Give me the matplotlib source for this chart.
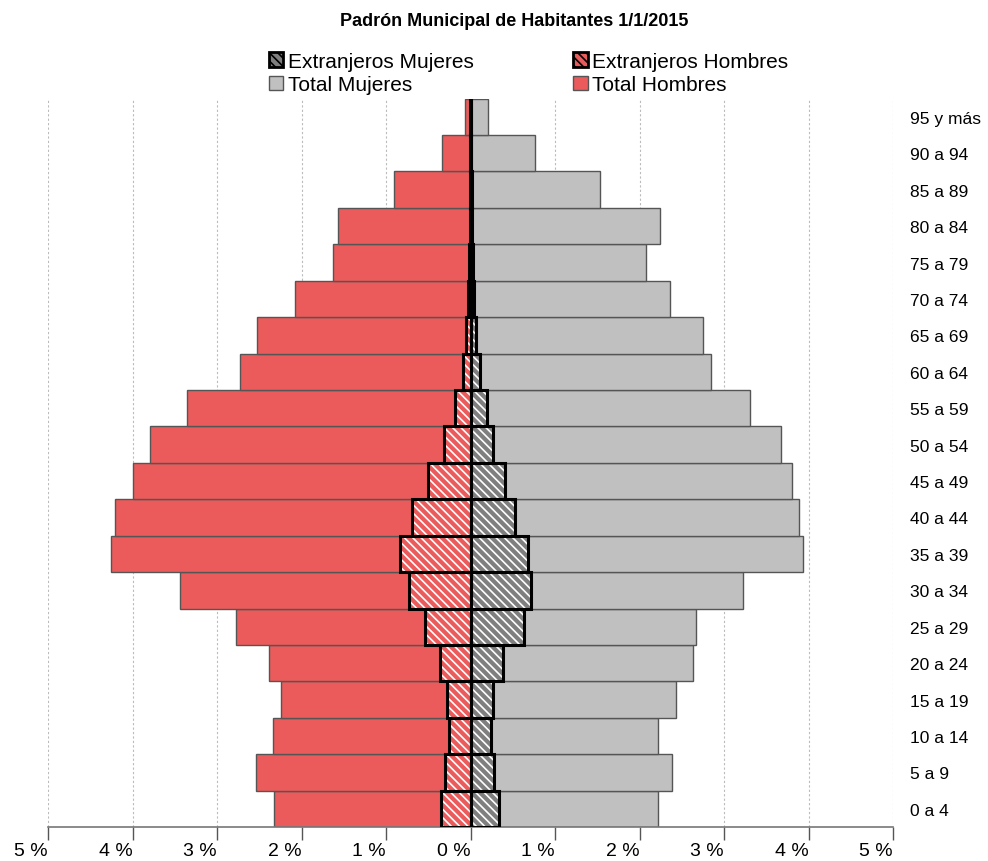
import matplotlib
matplotlib.use("Agg")
import matplotlib.pyplot as plt
import numpy as np
from matplotlib.patches import Patch

plt.rcParams['font.family'] = ['Liberation Sans', 'DejaVu Sans']
plt.rcParams['hatch.linewidth'] = 1.2

grupos = ["0 a 4", "5 a 9", "10 a 14", "15 a 19", "20 a 24", "25 a 29", "30 a 34",
          "35 a 39", "40 a 44", "45 a 49", "50 a 54", "55 a 59", "60 a 64", "65 a 69",
          "70 a 74", "75 a 79", "80 a 84", "85 a 89", "90 a 94", "95 y más"]

# porcentajes sobre el total
total_hombres = [2.33, 2.54, 2.34, 2.24, 2.38, 2.78, 3.44, 4.25, 4.21, 3.99, 3.79, 3.35,
                 2.73, 2.53, 2.08, 1.63, 1.57, 0.90, 0.34, 0.06]
total_mujeres = [2.22, 2.38, 2.22, 2.43, 2.63, 2.67, 3.22, 3.93, 3.89, 3.81, 3.67, 3.31,
                 2.84, 2.75, 2.36, 2.08, 2.24, 1.53, 0.76, 0.21]
extr_hombres = [0.35, 0.30, 0.26, 0.28, 0.36, 0.54, 0.73, 0.84, 0.69, 0.50, 0.31, 0.18,
                0.095, 0.05, 0.03, 0.02, 0.01, 0.01, 0.01, 0.01]
extr_mujeres = [0.34, 0.28, 0.24, 0.26, 0.38, 0.63, 0.72, 0.68, 0.53, 0.41, 0.27, 0.19,
                0.11, 0.06, 0.04, 0.03, 0.02, 0.02, 0.01, 0.01]

rojo = "#ec5b5b"
gris = "#c0c0c0"
gris_osc = "#7f7f7f"

y = np.arange(len(grupos))
th = -np.array(total_hombres)
eh = -np.array(extr_hombres)

fig = plt.figure(figsize=(9.88, 8.62), dpi=100)
ax = fig.add_axes([0.0486, 0.0394, 0.8553, 0.845])

ax.barh(y, th, height=1.0, color=rojo, edgecolor="#555555", linewidth=1, zorder=2)
ax.barh(y, total_mujeres, height=1.0, color=gris, edgecolor="#555555", linewidth=1, zorder=2)

# extranjeros: relleno rayado blanco + borde negro
ax.barh(y, eh, height=1.0, color=rojo, edgecolor="white", hatch="\\\\\\\\", linewidth=0, zorder=3)
ax.barh(y, extr_mujeres, height=1.0, color=gris_osc, edgecolor="white", hatch="\\\\\\\\", linewidth=0, zorder=3)
ax.barh(y, eh, height=1.0, fill=False, edgecolor="black", linewidth=2.2, zorder=4)
ax.barh(y, extr_mujeres, height=1.0, fill=False, edgecolor="black", linewidth=2.2, zorder=4)
ax.axvline(0, color="black", lw=1.5, zorder=5)

ax.set_xlim(-5, 5)
ax.set_ylim(-0.5, len(grupos) - 0.5)
ticks = np.arange(-5, 6)
ax.set_xticks(ticks)
ax.set_xticklabels(["%d %%" % abs(t) for t in ticks], fontsize=14, ha="right")
ax.xaxis.grid(True, linestyle=(0, (2, 2)), color="#bbbbbb", lw=0.8, zorder=0)
ax.tick_params(axis="x", length=9, color="#555555", pad=2, width=1)

ax.yaxis.tick_right()
ax.set_yticks(y)
ax.set_yticklabels(grupos, fontsize=12.5)
ax.tick_params(axis="y", length=0, pad=12)

for s in ["top", "left", "right"]:
    ax.spines[s].set_visible(False)
ax.spines["bottom"].set_color("#777777")
ax.spines["bottom"].set_linewidth(1.2)

fig.text(0.52, 0.975, "Padrón Municipal de Habitantes 1/1/2015", ha="center", va="center",
         fontsize=13, fontweight="bold")

handles = [
    Patch(facecolor=gris_osc, edgecolor="black", hatch="\\\\\\\\", linewidth=2),
    Patch(facecolor=gris, edgecolor="#555555"),
    Patch(facecolor=rojo, edgecolor="black", hatch="\\\\\\\\", linewidth=2),
    Patch(facecolor=rojo, edgecolor="#555555"),
]
labels = ["Extranjeros Mujeres", "Total Mujeres", "Extranjeros Hombres", "Total Hombres"]
fig.legend(handles, labels, ncol=2, loc="center", bbox_to_anchor=(0.535, 0.914),
           frameon=False, fontsize=15, handlelength=0.7, handleheight=0.7,
           handletextpad=0.2, columnspacing=4.8, labelspacing=0.2, borderpad=0)

fig.savefig("out.png", dpi=100)
